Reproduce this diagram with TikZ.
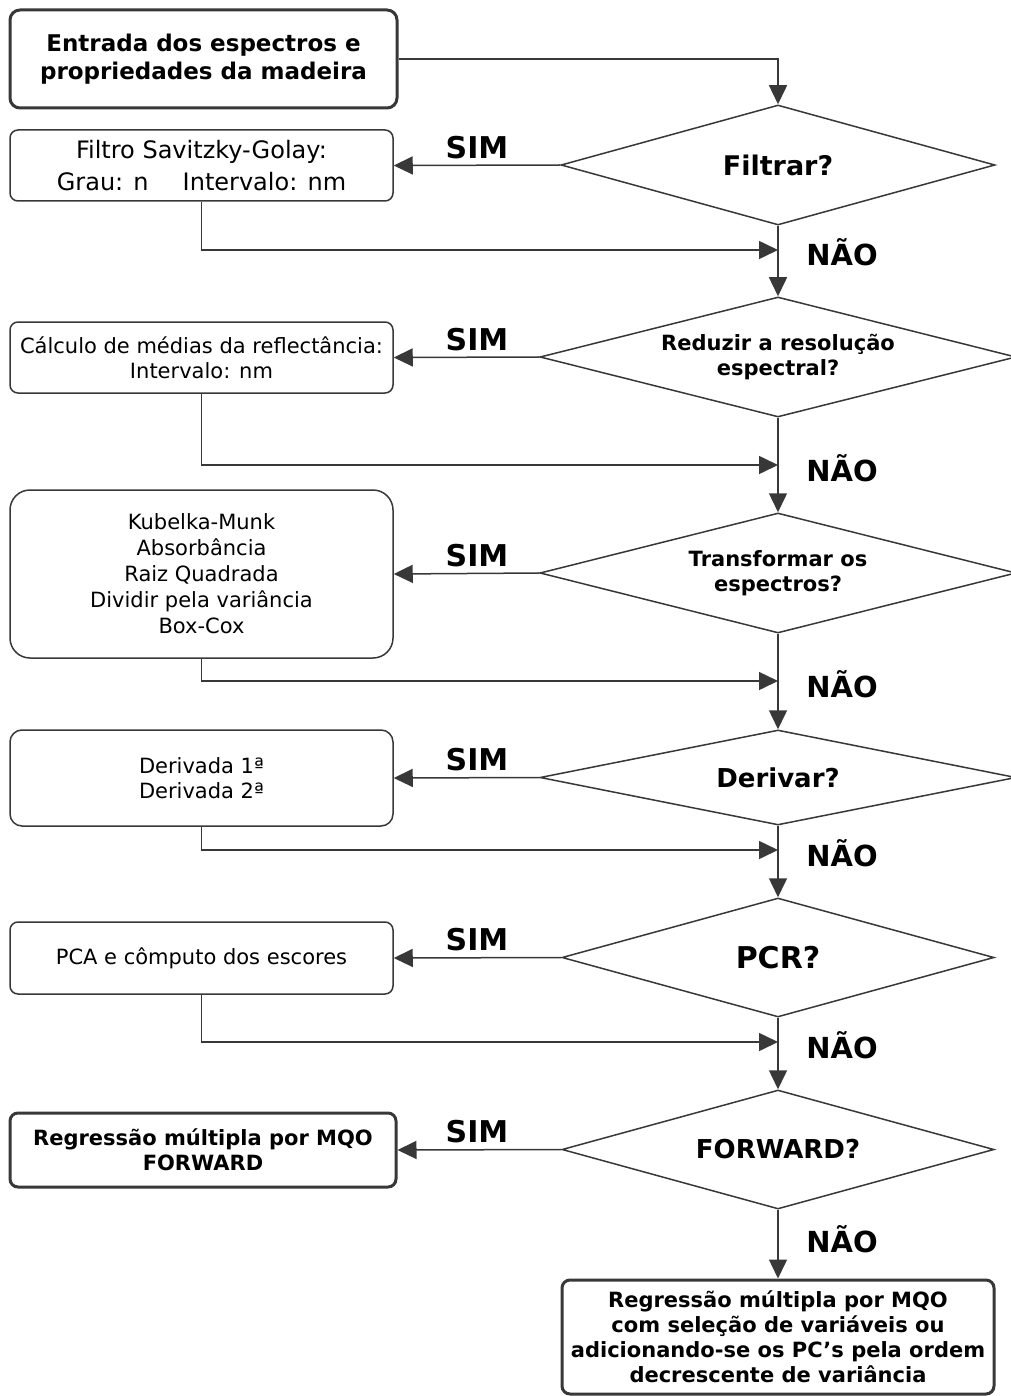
\documentclass[tikz,border=0pt]{standalone}
\usepackage{fontspec}
\setmainfont{DejaVu Sans}
\usetikzlibrary{shapes.geometric,arrows.meta}

\definecolor{lnGrey}{HTML}{383838}
\providecommand{\fsz}[2]{\fontsize{#1}{#2}\selectfont}

\begin{document}
\begin{tikzpicture}[x=1pt, y=-1pt,
  procbox/.style={draw=lnGrey, line width=1.5pt, rounded corners=8pt,
    minimum width=383pt, align=center, inner sep=0pt, font=\fsz{21}{25}},
  keybox/.style={procbox, line width=3pt, font=\bfseries\fsz{21}{25}},
  askbox/.style={diamond, aspect=4, draw=lnGrey, line width=1.5pt,
    inner sep=0pt, align=center},
  flow/.style={draw=lnGrey, line width=1.5pt,
    -{Triangle[length=19pt,width=18pt]}},
  yeslbl/.style={font=\bfseries\fsz{30}{32}, anchor=base},
  nolbl/.style={font=\bfseries\fsz{29}{31}, anchor=base}]

  \useasboundingbox[fill=white] (0,0) rectangle (1010,1396);

  % --------------------------------------------------------------------------
  % Left column: input and processing boxes
  % --------------------------------------------------------------------------
  \node[keybox, minimum width=387pt, minimum height=98pt, rounded corners=10pt,
    font=\bfseries\fsz{23}{28}] (entrada) at (203.5,59)
    {Entrada dos espectros e\\propriedades da madeira};

  \node[procbox, minimum height=71pt, font=\fsz{24}{32}] (filtro) at (201.5,165.5)
    {Filtro Savitzky-Golay:\\Grau: n\hspace{34pt}Intervalo: nm};

  \node[procbox, minimum height=71pt] (media) at (201.5,357.5)
    {C\'alculo de m\'edias da reflect\^ancia:\\Intervalo: nm};

  \node[procbox, minimum height=168pt, rounded corners=20pt, font=\fsz{21}{26}]
    (transf) at (201.5,574)
    {Kubelka-Munk\\Absorb\^ancia\\Raiz Quadrada\\Dividir pela vari\^ancia\\Box-Cox};

  \node[procbox, minimum height=96pt, rounded corners=12pt] (deriv) at (201.5,778)
    {Derivada 1ª\\Derivada 2ª};

  \node[procbox, minimum height=72pt] (pca) at (201.5,958)
    {PCA e c\^omputo dos escores};

  \node[keybox, minimum width=386pt, minimum height=74pt] (regfwd) at (203,1150)
    {Regress\~ao m\'ultipla por MQO\\FORWARD};

  % --------------------------------------------------------------------------
  % Right column: decisions
  % --------------------------------------------------------------------------
  \node[askbox, minimum width=434pt, minimum height=120pt,
    font=\bfseries\fsz{27}{30}] (qfiltro) at (778,165) {Filtrar?};
  \node[askbox, minimum width=476pt, minimum height=120pt,
    font=\bfseries\fsz{21}{25}] (qreduz) at (778,357)
    {Reduzir a resolu\c{c}\~ao\\espectral?};
  \node[askbox, minimum width=476pt, minimum height=120pt,
    font=\bfseries\fsz{21}{25}] (qtransf) at (778,573)
    {Transformar os\\espectros?};
  \node[askbox, minimum width=476pt, minimum height=95pt,
    font=\bfseries\fsz{26}{30}] (qderiv) at (778,777.5) {Derivar?};
  \node[askbox, minimum width=432pt, minimum height=119pt,
    font=\bfseries\fsz{30}{32}] (qpcr) at (778,957.5) {PCR?};
  \node[askbox, minimum width=432pt, minimum height=119pt,
    font=\bfseries\fsz{26}{30}] (qfwd) at (778,1149.5) {FORWARD?};

  \node[keybox, minimum width=432pt, minimum height=114pt] (regsel) at (778,1337)
    {Regress\~ao m\'ultipla por MQO\\com sele\c{c}\~ao de vari\'aveis ou\\
     adicionando-se os PC’s pela ordem\\decrescente de vari\^ancia};

  % merge points on the main line
  \coordinate (j1) at (778,250);
  \coordinate (j2) at (778,465);
  \coordinate (j3) at (778,681);
  \coordinate (j4) at (778,850);
  \coordinate (j5) at (778,1042);

  % --------------------------------------------------------------------------
  % Connectors
  % --------------------------------------------------------------------------
  \draw[flow] (entrada.east) -| (qfiltro.north);

  \draw[flow] (qfiltro.west) -- (filtro.east);
  \draw[flow] (qreduz.west)  -- (media.east);
  \draw[flow] (qtransf.west) -- (transf.east);
  \draw[flow] (qderiv.west)  -- (deriv.east);
  \draw[flow] (qpcr.west)    -- (pca.east);
  \draw[flow] (qfwd.west)    -- (regfwd.east);

  \draw[flow] (filtro.south) |- (j1);
  \draw[flow] (media.south)  |- (j2);
  \draw[flow] (transf.south) |- (j3);
  \draw[flow] (deriv.south)  |- (j4);
  \draw[flow] (pca.south)    |- (j5);

  \draw[flow] (qfiltro.south) -- (qreduz.north);
  \draw[flow] (qreduz.south)  -- (qtransf.north);
  \draw[flow] (qtransf.south) -- (qderiv.north);
  \draw[flow] (qderiv.south)  -- (qpcr.north);
  \draw[flow] (qpcr.south)    -- (qfwd.north);
  \draw[flow] (qfwd.south)    -- (regsel.north);

  % --------------------------------------------------------------------------
  % Answer labels
  % --------------------------------------------------------------------------
  \node[yeslbl] (sim1) at (477,158.5) {SIM};
  \node[yeslbl] (sim2) at (477,350)   {SIM};
  \node[yeslbl] (sim3) at (477,566)   {SIM};
  \node[yeslbl] (sim4) at (477,770)   {SIM};
  \node[yeslbl] (sim5) at (477,950.5) {SIM};
  \node[yeslbl] (sim6) at (477,1142)  {SIM};

  \node[nolbl] (nao1) at (842,266)  {NÃO};
  \node[nolbl] (nao2) at (842,481)  {NÃO};
  \node[nolbl] (nao3) at (842,697)  {NÃO};
  \node[nolbl] (nao4) at (842,866)  {NÃO};
  \node[nolbl] (nao5) at (842,1058) {NÃO};
  \node[nolbl] (nao6) at (842,1252) {NÃO};

\end{tikzpicture}
\end{document}
